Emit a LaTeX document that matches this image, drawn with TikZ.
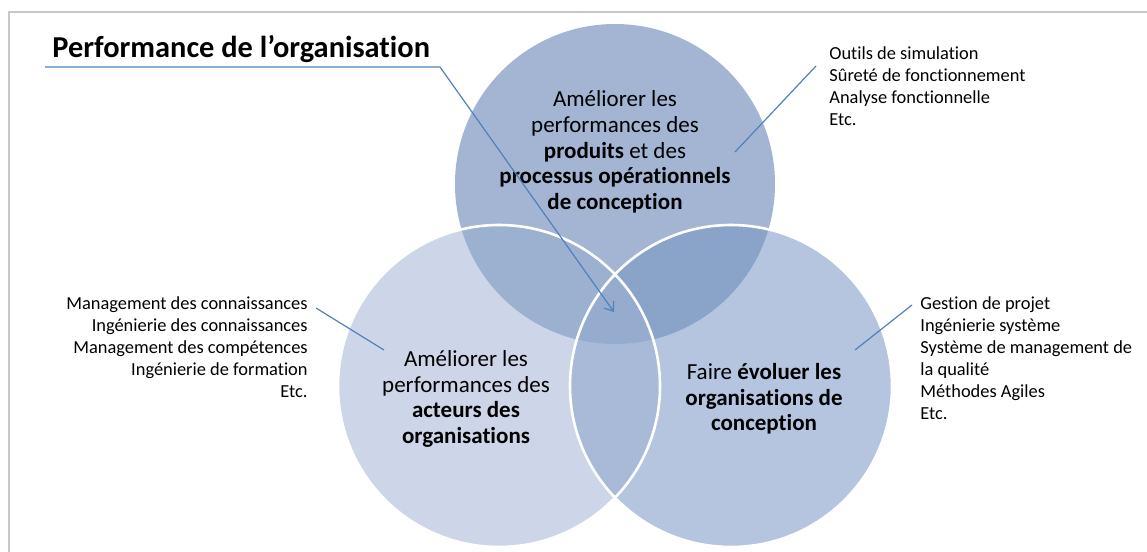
\documentclass[tikz,border=0pt]{standalone}
\usepackage{fontspec}
\setmainfont{Carlito}[Ligatures=NoCommon]
\usetikzlibrary{arrows.meta}
\definecolor{frameGray}{RGB}{200,200,200}
\definecolor{linkBlue}{RGB}{79,129,189}
\definecolor{topBlue}{RGB}{163,181,210}
\definecolor{leftBlue}{RGB}{205,214,232}
\definecolor{rightBlue}{RGB}{181,196,223}
\definecolor{topLeftBlue}{RGB}{156,176,208}
\definecolor{topRightBlue}{RGB}{138,163,200}
\definecolor{leftRightBlue}{RGB}{168,186,216}
\definecolor{midBlue}{RGB}{150,172,206}
\tikzset{
  link/.style={draw=linkBlue, line width=0.6pt},
  ring/.style={draw=white, line width=1.3pt},
  listtext/.style={inner sep=0pt, align=left, font=\fontsize{9.2}{11}\selectfont},
  circletext/.style={inner sep=0pt, align=center, font=\fontsize{11.5}{12.85}\selectfont},
  titletext/.style={inner sep=0pt, font=\fontsize{15.2}{18}\selectfont\bfseries}
}
\begin{document}
\begin{tikzpicture}[x=0.5pt, y=-0.5pt]
\useasboundingbox (0,0) rectangle (1147,552);
\draw[frameGray, line width=1.3pt] (9,552) -- (9,12) -- (1147,12);
% the three sets
\coordinate (topSet) at (615,184);
\coordinate (leftSet) at (499,386);
\coordinate (rightSet) at (731,386);
\fill[topBlue] (topSet) circle[radius=160];
\fill[leftBlue] (leftSet) circle[radius=161];
\fill[rightBlue] (rightSet) circle[radius=161];
\begin{scope}
\clip (topSet) circle[radius=160];
\fill[topLeftBlue] (leftSet) circle[radius=161];
\fill[topRightBlue] (rightSet) circle[radius=161];
\end{scope}
\begin{scope}
\clip (leftSet) circle[radius=161];
\fill[leftRightBlue] (rightSet) circle[radius=161];
\clip (topSet) circle[radius=160];
\fill[midBlue] (rightSet) circle[radius=161];
\end{scope}
\draw[ring] (leftSet) circle[radius=161];
\draw[ring] (rightSet) circle[radius=161];
% texts
\node[titletext, anchor=base west] (title) at (52,57) {Performance de l’organisation};
\node[circletext] (prodText) at (615,152) {Améliorer les\\performances des\\\textbf{produits} et des\\\textbf{processus opérationnels}\\\textbf{de conception}};
\node[circletext] (actText) at (466,399) {Améliorer les\\performances des\\\textbf{acteurs des}\\\textbf{organisations}};
\node[circletext] (orgText) at (764,399) {Faire \textbf{évoluer les}\\\textbf{organisations de}\\\textbf{conception}};
\node[listtext, anchor=north west] (simList) at (829,46) {Outils de simulation\\Sûreté de fonctionnement\\Analyse fonctionnelle\\Etc.};
\node[listtext, align=right, anchor=north east] (knowList) at (308,296) {Management des connaissances\\Ingénierie des connaissances\\Management des compétences\\Ingénierie de formation\\Etc.};
\node[listtext, anchor=north west] (orgList) at (920,296) {Gestion de projet\\Ingénierie système\\Système de management de\\la qualité\\Méthodes Agiles\\Etc.};
% connectors
\coordinate (titleStart) at (45,67);
\coordinate (titleBend) at (440,67);
\coordinate (midTip) at (614,312);
\coordinate (simEnd) at (816,66);
\coordinate (simTip) at (735,152);
\coordinate (knowEnd) at (316,308);
\coordinate (knowTip) at (384,350);
\coordinate (orgEnd) at (912,305);
\coordinate (orgTip) at (855,350);
\draw[link, -{Straight Barb[length=4pt, width=6pt]}] (titleStart) -- (titleBend) -- (midTip);
\draw[link] (simEnd) -- (simTip);
\draw[link] (knowEnd) -- (knowTip);
\draw[link] (orgEnd) -- (orgTip);
\end{tikzpicture}
\end{document}
